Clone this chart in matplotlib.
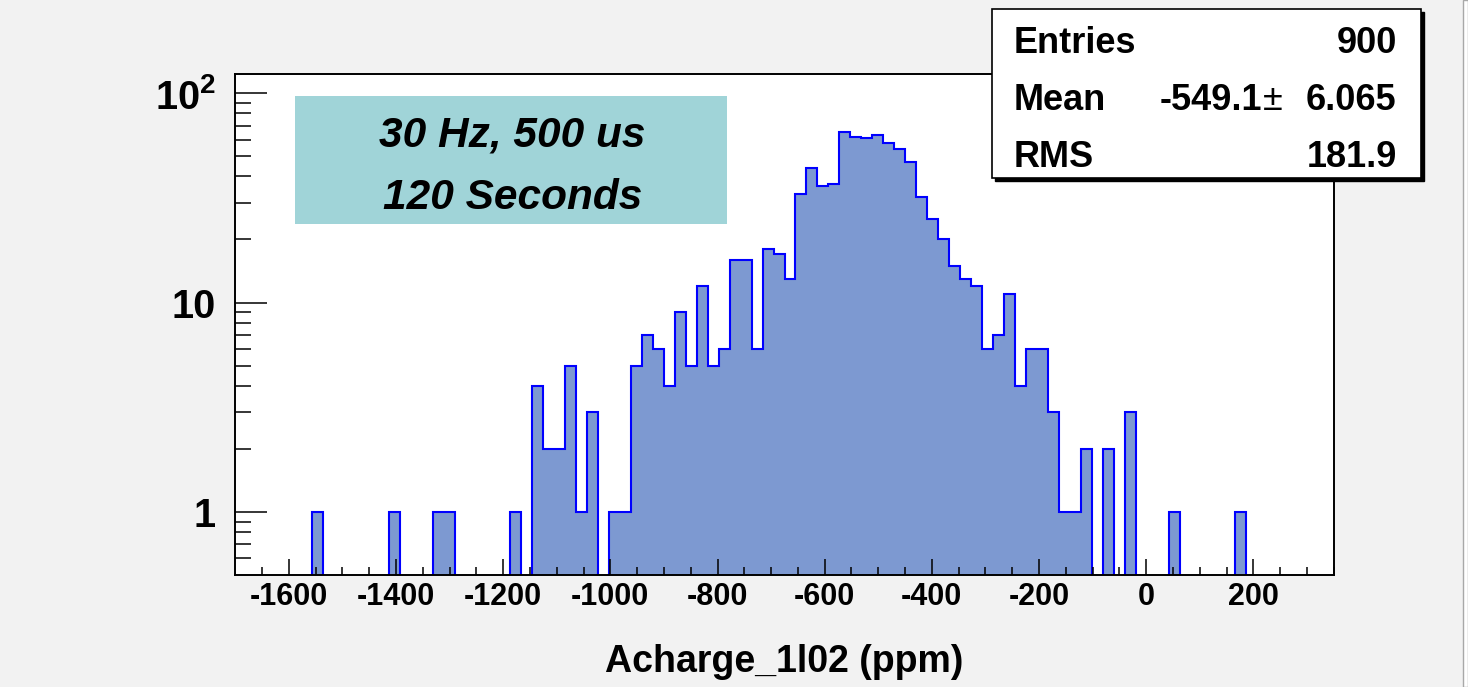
import matplotlib
matplotlib.use("Agg")
import matplotlib.pyplot as plt
from matplotlib.patches import Rectangle
import numpy as np

plt.rcParams["font.family"] = "Liberation Sans"
plt.rcParams["font.weight"] = "bold"
plt.rcParams["mathtext.fontset"] = "custom"
plt.rcParams["mathtext.rm"] = "Liberation Sans:bold"
plt.rcParams["mathtext.it"] = "Liberation Sans:bold:italic"
plt.rcParams["mathtext.bf"] = "Liberation Sans:bold"

# histogram: 100 bins between -1700 and 350 ppm
x_min, x_max, n_bins = -1700, 350, 100
counts = [
    0, 0, 0, 0, 0, 0, 0, 1, 0, 0,
    0, 0, 0, 0, 1, 0, 0, 0, 1, 1,
    0, 0, 0, 0, 0, 1, 0, 4, 2, 2,
    5, 1, 3, 0, 1, 1, 5, 7, 6, 4,
    9, 5, 12, 5, 6, 16, 16, 6, 18, 17,
    13, 33, 44, 36, 37, 65, 62, 61, 63, 58,
    54, 47, 32, 25, 20, 15, 13, 12, 6, 7,
    11, 4, 6, 6, 3, 1, 1, 2, 0, 2,
    0, 3, 0, 0, 0, 1, 0, 0, 0, 0,
    0, 1, 0, 0, 0, 0, 0, 0, 0, 0,
]
x_ticks = [-1600, -1400, -1200, -1000, -800, -600, -400, -200, 0, 200]
y_ticks = [1, 10, 100]
y_ticklabels = ["1", "10", "$10^{2}$"]

stats_names = ["Entries", "Mean", "RMS"]
stats_mean = "-549.1"
stats_values = ["900", "6.065", "181.9"]
info_lines = ["30 Hz, 500 us", "120 Seconds"]
x_label = "Acharge_1l02 (ppm)"

W, H = 1468, 687
def fx(px):
    return px / W
def fy(py):
    return 1 - py / H

fig = plt.figure(figsize=(W / 100, H / 100), dpi=100, facecolor="#f2f2f2")
ax = fig.add_axes([fx(235.3), fy(575), fx(1333.7) - fx(235.3), fy(73.5) - fy(575)])

edges = np.linspace(x_min, x_max, n_bins + 1)
vals = np.array(counts, dtype=float)
draw_vals = np.where(vals > 0, vals, 0.01)
ax.stairs(draw_vals, edges, baseline=0.01, fill=True, color="#7d99d1", lw=0)
ax.stairs(draw_vals, edges, baseline=None, color="#0000ff", lw=1.5)

ax.set_yscale("log")
ax.set_xlim(x_min, x_max)
ax.set_ylim(0.5, 124)

ax.set_xticks(x_ticks)
ax.set_xticklabels([str(t) for t in x_ticks], fontsize=22, fontweight="bold")
ax.set_xticks(np.arange(-1650, 351, 50), minor=True)
ax.set_yticks(y_ticks)
ax.set_yticklabels(y_ticklabels, fontsize=28.5, fontweight="bold")
minor_y = [m * d for d in [0.1, 1, 10] for m in range(2, 10)]
ax.set_yticks([v for v in minor_y if 0.5 < v < 124], minor=True)
ax.yaxis.set_minor_formatter(plt.NullFormatter())

ax.tick_params(axis="x", which="major", direction="in", length=11.5, width=1.1, pad=5, top=False)
ax.tick_params(axis="x", which="minor", direction="in", length=5.8, width=1.1, top=False)
ax.tick_params(axis="y", which="major", direction="in", length=23, width=1.1, pad=14, right=False)
ax.tick_params(axis="y", which="minor", direction="in", length=11.5, width=1.1, right=False)
for s in ax.spines.values():
    s.set_linewidth(1.4)

ax.set_xlabel(x_label, fontsize=27, fontweight="bold")
ax.xaxis.set_label_coords(0.5, -(662 - 575) / (575 - 73.5))
ax.xaxis.label.set_va("center")

# info box
fig.patches.append(Rectangle((fx(295), fy(224)), fx(727) - fx(295), fy(96) - fy(224),
                             transform=fig.transFigure, facecolor="#a0d4d8", edgecolor="none"))
fig.text(fx(512), fy(146.7), info_lines[0], fontsize=30.5, fontweight="bold",
         style="italic", ha="center", va="baseline")
fig.text(fx(513), fy(209.3), info_lines[1], fontsize=30.5, fontweight="bold",
         style="italic", ha="center", va="baseline")

# stats box with shadow
fig.patches.append(Rectangle((fx(994.7), fy(180.7)), fx(1423.7) - fx(994.7), fy(12.3) - fy(180.7),
                             transform=fig.transFigure, facecolor="black", edgecolor="black", zorder=4))
fig.patches.append(Rectangle((fx(991.7), fy(177.7)), fx(1420.7) - fx(991.7), fy(9.3) - fy(177.7),
                             transform=fig.transFigure, facecolor="white", edgecolor="black",
                             lw=1.2, zorder=5))
rows_y = [53.3, 110, 166.7]
for name, val, yy in zip(stats_names, stats_values, rows_y):
    fig.text(fx(1013.3), fy(yy), name, fontsize=26, fontweight="bold", va="baseline", zorder=6)
    fig.text(fx(1396.7), fy(yy), val, fontsize=26, fontweight="bold", ha="right", va="baseline", zorder=6)
fig.text(fx(1262), fy(rows_y[1]), stats_mean, fontsize=26, fontweight="bold", ha="right", va="baseline", zorder=6)
fig.text(fx(1263), fy(rows_y[1]), "\u00b1", fontsize=26, fontweight="normal", ha="left", va="baseline", zorder=6)

# canvas border on the right
fig.patches.append(Rectangle((fx(1463), 0), 1 - fx(1463), 1, transform=fig.transFigure,
                             facecolor="white", edgecolor="#a8a8a8", lw=1.0, zorder=1))

fig.savefig("out.png", dpi=100, facecolor=fig.get_facecolor())
